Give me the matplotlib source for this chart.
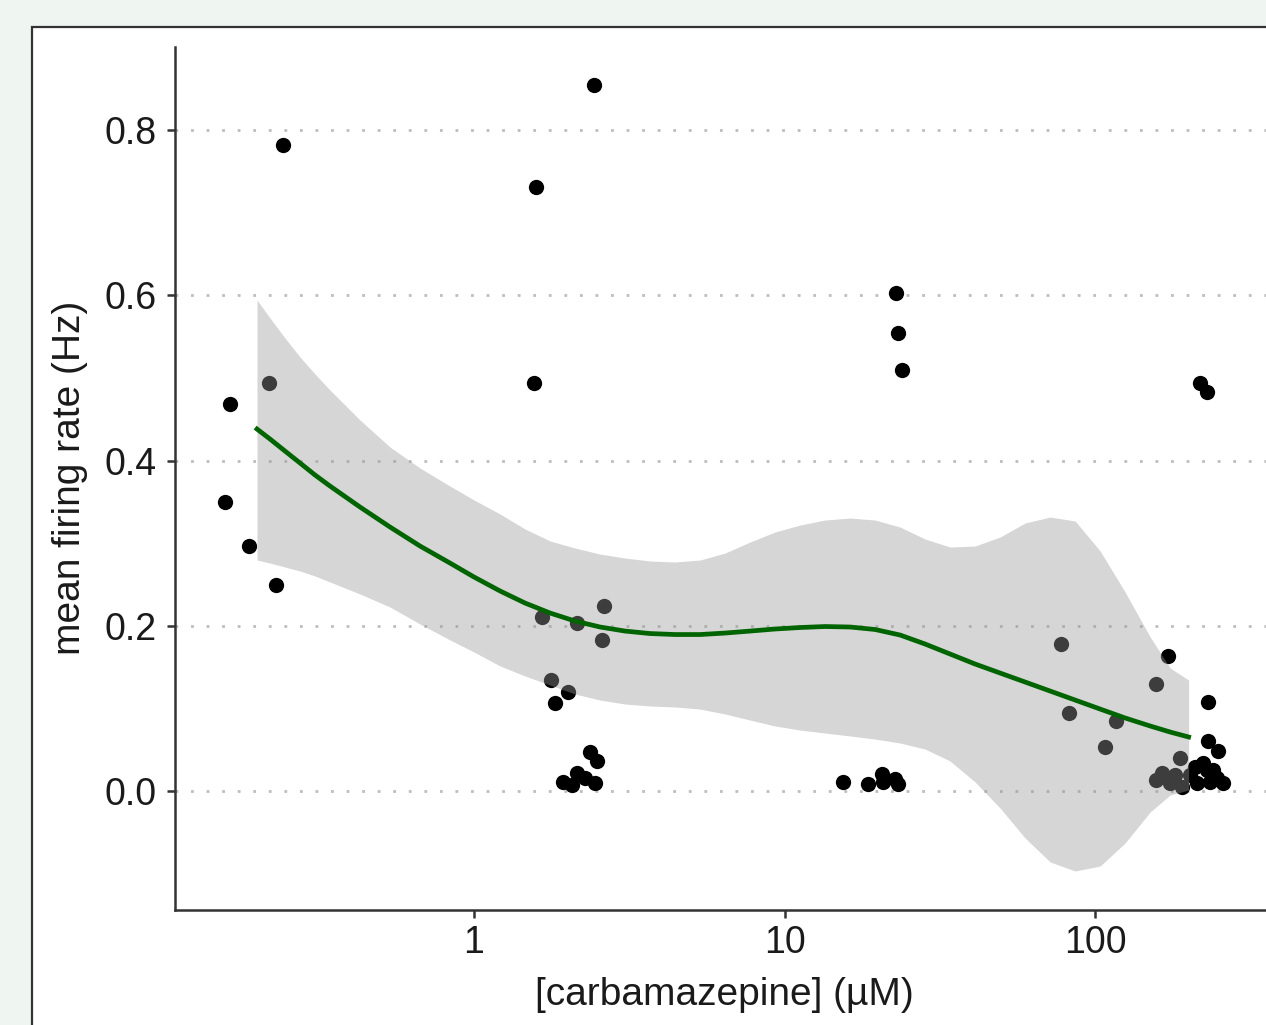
import numpy as np
import matplotlib
matplotlib.use("Agg")
import matplotlib.pyplot as plt
from matplotlib.patches import Rectangle

plt.rcParams['font.family'] = ['Liberation Sans', 'DejaVu Sans']

# measured cells: concentration (uM, jittered on log scale) and mean firing rate (Hz)
conc_uM = [
    0.243, 0.164, 0.219, 0.158, 0.189, 0.230,
    2.435, 1.584, 1.560, 1.652, 2.151, 2.623, 2.578, 1.766, 2.013, 1.824,
    1.934, 2.068, 2.146, 2.278, 2.364, 2.489, 2.453,
    22.87, 23.20, 23.90, 15.47, 18.62, 20.56, 20.81, 22.69, 23.25,
    77.5, 82.3, 107.2, 116.8, 156.9, 172.2, 231.7, 231.7, 249.5, 217.9, 228.9,
    157.2, 164.4, 174.4, 180.9, 187.8, 190.6, 202.3, 209.9, 213.1, 222.7,
    229.5, 239.9, 234.6, 247.1, 258.4,
]
rate_hz = [
    0.782, 0.468, 0.494, 0.350, 0.297, 0.249,
    0.855, 0.731, 0.494, 0.211, 0.203, 0.224, 0.183, 0.134, 0.120, 0.107,
    0.011, 0.007, 0.022, 0.016, 0.047, 0.036, 0.010,
    0.603, 0.554, 0.510, 0.011, 0.009, 0.021, 0.011, 0.015, 0.009,
    0.178, 0.094, 0.053, 0.085, 0.130, 0.163, 0.108, 0.061, 0.048, 0.494, 0.483,
    0.013, 0.022, 0.010, 0.019, 0.040, 0.005, 0.019, 0.029, 0.010, 0.034,
    0.025, 0.025, 0.011, 0.016, 0.010,
]

# loess fit and confidence band
smooth_conc = [0.20, 0.2203, 0.2461, 0.2752, 0.3075, 0.3437, 0.4294, 0.5364, 0.670, 0.8368,
               1.0, 1.213, 1.460, 1.758, 2.115, 2.546, 3.064, 3.688, 4.440, 5.345,
               6.434, 7.742, 9.320, 11.22, 13.50, 16.26, 19.56, 23.55, 28.35, 34.12,
               41.07, 49.43, 59.52, 71.64, 86.23, 103.8, 124.9, 150.4, 174.4, 200.0]
smooth_fit = [0.4381, 0.4260, 0.4115, 0.3970, 0.3825, 0.3691, 0.3437, 0.3195, 0.2965, 0.2759,
              0.2590, 0.2421, 0.2275, 0.2154, 0.2057, 0.1985, 0.1936, 0.1906, 0.1894, 0.1894,
              0.1912, 0.1936, 0.1961, 0.1979, 0.1991, 0.1985, 0.1955, 0.1888, 0.1779, 0.1658,
              0.1537, 0.1428, 0.1319, 0.1210, 0.1101, 0.0992, 0.0884, 0.0787, 0.0714, 0.0654]
smooth_upper = [0.5943, 0.5725, 0.5483, 0.5253, 0.5047, 0.4853, 0.4490, 0.4163, 0.3909, 0.3691,
                0.3522, 0.3353, 0.3171, 0.3026, 0.2941, 0.2868, 0.2820, 0.2784, 0.2772, 0.2796,
                0.2880, 0.3014, 0.3135, 0.3219, 0.3280, 0.3304, 0.3280, 0.3195, 0.3050, 0.2953,
                0.2965, 0.3074, 0.3244, 0.3316, 0.3268, 0.2905, 0.2408, 0.1864, 0.1489, 0.1343]
smooth_lower = [0.2796, 0.2759, 0.2711, 0.2663, 0.2602, 0.2530, 0.2384, 0.2227, 0.2021, 0.1828,
                0.1682, 0.1513, 0.1392, 0.1283, 0.1174, 0.1101, 0.1053, 0.1029, 0.1017, 0.0992,
                0.0932, 0.0859, 0.0787, 0.0738, 0.0702, 0.0666, 0.0629, 0.0581, 0.0508, 0.0363,
                0.0109, -0.0206, -0.0569, -0.0859, -0.0968, -0.0908, -0.0629, -0.0254, -0.0048, 0.0012]

x_ticks = [1, 10, 100]
x_ticklabels = ["1", "10", "100"]
y_ticks = [0.0, 0.2, 0.4, 0.6, 0.8]

W, H = 1266, 1025
ticksize = 27
labelsize = 28
axis_color = '#333333'
text_color = '#1a1a1a'

fig = plt.figure(figsize=(W / 100, H / 100), dpi=100, facecolor='#EFF5F0')

# white panel with a dark border, cut off at right and bottom
panel = Rectangle((32 / W, -0.05), 1.2, (H - 27) / H + 0.05, transform=fig.transFigure,
                  facecolor='white', edgecolor=axis_color, linewidth=1.6, zorder=-1)
fig.add_artist(panel)

ax = fig.add_axes([175 / W, (H - 910) / H, (W - 175) / W, (910 - 47) / H])
ax.set_facecolor('none')

ax.plot(conc_uM, rate_hz, 'o', color='black', markersize=11, markeredgewidth=0, zorder=2)
ax.fill_between(smooth_conc, smooth_lower, smooth_upper, color='#999999', alpha=0.4,
                linewidth=0, zorder=3)
ax.plot(smooth_conc, smooth_fit, color='#006400', linewidth=3.4, solid_joinstyle='round',
        zorder=4)

ax.set_xscale('log')
ax.set_xlim(0.1089, 355)
ax.set_ylim(-0.144, 0.9005)
ax.set_xticks(x_ticks)
ax.set_xticklabels(x_ticklabels)
ax.xaxis.set_minor_locator(matplotlib.ticker.NullLocator())
ax.set_yticks(y_ticks)
ax.set_yticklabels([f"{v:.1f}" for v in y_ticks])

for y in y_ticks:
    ax.axhline(y, color='#BDBDBD', linewidth=2.0, linestyle=(0, (1, 4.6)), zorder=1)

for side in ['top', 'right']:
    ax.spines[side].set_visible(False)
for side in ['left', 'bottom']:
    ax.spines[side].set_color(axis_color)
    ax.spines[side].set_linewidth(1.8)

ax.tick_params(axis='both', length=6, width=1.8, color=axis_color, labelcolor=text_color,
               labelsize=ticksize)
ax.tick_params(axis='y', pad=7)
ax.tick_params(axis='x', pad=5)

fig.text(724 / W, 1 - 995 / H, "[carbamazepine] (µM)", ha='center', va='center',
         fontsize=labelsize, color=text_color)
fig.text(70 / W, 1 - 478 / H, "mean firing rate (Hz)", ha='center', va='center',
         rotation=90, fontsize=labelsize, color=text_color)

plt.savefig('out.png', dpi=100, facecolor=fig.get_facecolor())
